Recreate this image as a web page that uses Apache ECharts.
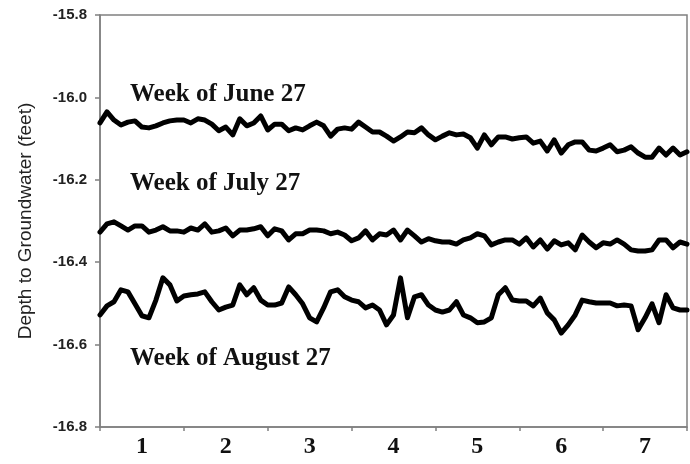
<!DOCTYPE html>
<html>
<head>
<meta charset="utf-8">
<script src="https://cdn.jsdelivr.net/npm/echarts@6/dist/echarts.min.js"></script>
<style>
  html, body { margin: 0; padding: 0; background: #ffffff; }
  #chart { width: 690px; height: 464px; }
</style>
</head>
<body>
<div id="chart"></div>
<script>
// ---- data (depth to groundwater, feet), sampled every 2 hours over 7 days ----
const hourStep = 2;
const dayLabels = ['1', '2', '3', '4', '5', '6', '7'];
const seriesNames = ['Week of June 27', 'Week of July 27', 'Week of August 27'];

const juneDepth = [
  -16.062, -16.035, -16.055, -16.067, -16.060, -16.057, -16.072, -16.074, -16.069, -16.062,
  -16.057, -16.055, -16.055, -16.062, -16.052, -16.055, -16.065, -16.081, -16.072, -16.091,
  -16.052, -16.069, -16.062, -16.045, -16.079, -16.065, -16.065, -16.081, -16.074, -16.079,
  -16.069, -16.060, -16.069, -16.094, -16.077, -16.074, -16.077, -16.060, -16.072, -16.084,
  -16.084, -16.094, -16.106, -16.096, -16.084, -16.086, -16.074, -16.091, -16.103, -16.094,
  -16.086, -16.091, -16.089, -16.098, -16.123, -16.091, -16.115, -16.096, -16.096, -16.101,
  -16.098, -16.096, -16.111, -16.106, -16.130, -16.103, -16.135, -16.115, -16.108, -16.108,
  -16.128, -16.130, -16.123, -16.115, -16.132, -16.128, -16.120, -16.135, -16.145, -16.145,
  -16.123, -16.140, -16.123, -16.140, -16.132
];

const julyDepth = [
  -16.327, -16.307, -16.302, -16.312, -16.322, -16.312, -16.312, -16.327, -16.322, -16.314,
  -16.324, -16.324, -16.327, -16.317, -16.322, -16.307, -16.327, -16.324, -16.317, -16.336,
  -16.322, -16.322, -16.319, -16.314, -16.336, -16.319, -16.324, -16.346, -16.331, -16.331,
  -16.322, -16.322, -16.324, -16.331, -16.327, -16.334, -16.348, -16.341, -16.324, -16.346,
  -16.331, -16.334, -16.322, -16.346, -16.322, -16.336, -16.351, -16.343, -16.348, -16.351,
  -16.351, -16.356, -16.346, -16.341, -16.331, -16.336, -16.358, -16.351, -16.346, -16.346,
  -16.356, -16.341, -16.363, -16.346, -16.368, -16.348, -16.358, -16.353, -16.370, -16.334,
  -16.351, -16.365, -16.353, -16.356, -16.346, -16.356, -16.370, -16.373, -16.373, -16.370,
  -16.346, -16.346, -16.365, -16.351, -16.356
];

const augustDepth = [
  -16.528, -16.506, -16.496, -16.467, -16.472, -16.501, -16.530, -16.535, -16.492, -16.438,
  -16.455, -16.494, -16.482, -16.479, -16.477, -16.472, -16.496, -16.516, -16.509, -16.504,
  -16.455, -16.479, -16.462, -16.492, -16.504, -16.504, -16.499, -16.460, -16.479, -16.501,
  -16.535, -16.545, -16.511, -16.472, -16.467, -16.484, -16.492, -16.496, -16.511, -16.504,
  -16.516, -16.552, -16.528, -16.438, -16.535, -16.484, -16.479, -16.504, -16.516, -16.521,
  -16.516, -16.496, -16.528, -16.535, -16.547, -16.545, -16.535, -16.479, -16.462, -16.492,
  -16.494, -16.494, -16.506, -16.487, -16.523, -16.540, -16.572, -16.552, -16.528, -16.492,
  -16.496, -16.499, -16.499, -16.499, -16.506, -16.504, -16.506, -16.564, -16.535, -16.501,
  -16.547, -16.479, -16.511, -16.516, -16.516
];

const yMin = -16.8, yMax = -15.8, yStep = 0.2;

// ---- chart ----
const toPairs = arr => arr.map((v, i) => [i * hourStep, v]);
const axisGray = '#808080';
const sansFont = '"Liberation Sans", Arial, Helvetica, sans-serif';
const serifFont = '"Liberation Serif", "Times New Roman", Times, serif';

const chart = echarts.init(document.getElementById('chart'), null, { renderer: 'canvas' });

const lineSeries = [juneDepth, julyDepth, augustDepth].map((arr, k) => ({
  name: seriesNames[k],
  type: 'line',
  xAxisIndex: 0,
  yAxisIndex: 0,
  data: toPairs(arr),
  showSymbol: false,
  symbol: 'none',
  smooth: false,
  silent: true,
  animation: false,
  lineStyle: { color: '#000000', width: 5, cap: 'round', join: 'round' }
}));

const annotationY = [95, 184, 359];

chart.setOption({
  animation: false,
  backgroundColor: '#ffffff',
  grid: {
    left: 100, right: 3, top: 15, bottom: 37,
    show: true, borderColor: axisGray, borderWidth: 1.5, backgroundColor: 'transparent'
  },
  xAxis: [
    {
      type: 'value',
      min: 0, max: dayLabels.length * 24, interval: 24,
      position: 'bottom',
      axisLine: { show: true, lineStyle: { color: axisGray, width: 1.5 } },
      axisTick: { show: true, inside: false, length: 4, lineStyle: { color: axisGray, width: 1.5 } },
      axisLabel: { show: false },
      splitLine: { show: false }
    },
    {
      type: 'category',
      data: dayLabels,
      boundaryGap: true,
      position: 'bottom',
      axisLine: { show: false },
      axisTick: { show: false },
      splitLine: { show: false },
      axisLabel: {
        show: true, margin: 8, color: '#111111',
        fontFamily: serifFont, fontWeight: 'bold', fontSize: 24
      }
    }
  ],
  yAxis: {
    type: 'value',
    min: yMin, max: yMax, interval: yStep,
    name: 'Depth to Groundwater (feet)',
    nameLocation: 'middle',
    nameGap: 65,
    nameTextStyle: { fontFamily: sansFont, fontSize: 19, color: '#222222' },
    axisLine: { show: true, lineStyle: { color: axisGray, width: 1.5 } },
    axisTick: { show: true, inside: false, length: 5, lineStyle: { color: axisGray, width: 1.5 } },
    axisLabel: {
      margin: 13, color: '#222222',
      fontFamily: sansFont, fontWeight: 'bold', fontSize: 15,
      formatter: v => v.toFixed(1)
    },
    splitLine: { show: false }
  },
  graphic: seriesNames.map((t, k) => ({
    type: 'text',
    x: 130,
    y: annotationY[k],
    silent: true,
    style: {
      text: t,
      fill: '#111111',
      font: 'bold 25px ' + serifFont,
      align: 'left',
      verticalAlign: 'middle'
    }
  })),
  series: lineSeries
});
</script>
</body>
</html>
